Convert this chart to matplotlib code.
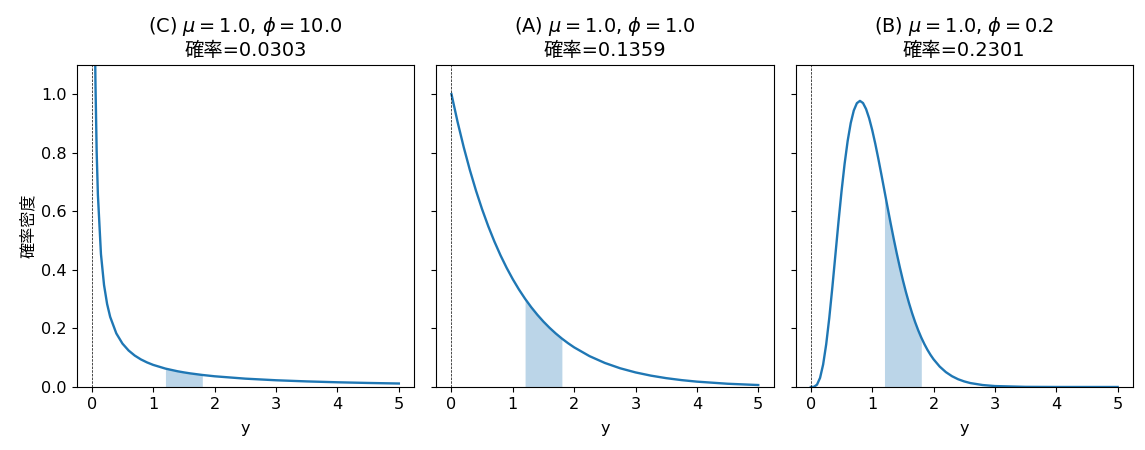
import numpy as np
import matplotlib
matplotlib.use("Agg")
from matplotlib import pyplot as plt

plt.rcParams['font.family'] = ['DejaVu Sans', 'Noto Sans CJK JP']
plt.rcParams['font.size'] = 11.6

# densities (gamma, mu=1.0)
# (C) phi = 10.0
y_c = [0.005, 0.01, 0.02, 0.03, 0.04, 0.05, 0.06, 0.08, 0.1, 0.15, 0.2, 0.25, 0.3,
       0.4, 0.5, 0.6, 0.7, 0.8, 0.9, 1.0, 1.2, 1.4, 1.5, 1.6, 1.8, 2.0, 2.5, 3.0,
       3.5, 4.0, 4.5, 5.0]
d_c = [9.82, 5.268, 2.823, 1.959, 1.513, 1.231, 1.044, 0.804, 0.6565, 0.4535, 0.3483,
       0.2835, 0.2394, 0.1830, 0.1482, 0.1246, 0.1073, 0.0942, 0.0839, 0.0755, 0.0628,
       0.0536, 0.0499, 0.0466, 0.0411, 0.0366, 0.0285, 0.0230, 0.0191, 0.0161, 0.0138,
       0.0119]

# (A) phi = 1.0
y_a = [0.0, 0.1, 0.2, 0.3, 0.4, 0.5, 0.6, 0.7, 0.8, 0.9, 1.0, 1.1, 1.2, 1.3, 1.4,
       1.5, 1.6, 1.7, 1.8, 1.9, 2.0, 2.25, 2.5, 2.75, 3.0, 3.25, 3.5, 3.75, 4.0,
       4.5, 5.0]
d_a = [1.0, 0.9048, 0.8187, 0.7408, 0.6703, 0.6065, 0.5488, 0.4966, 0.4493, 0.4066,
       0.3679, 0.3329, 0.3012, 0.2725, 0.2466, 0.2231, 0.2019, 0.1827, 0.1653, 0.1496,
       0.1353, 0.1054, 0.0821, 0.0639, 0.0498, 0.0388, 0.0302, 0.0235, 0.0183,
       0.0111, 0.0067]

# (B) phi = 0.2
y_b = [0.0, 0.05, 0.1, 0.15, 0.2, 0.25, 0.3, 0.35, 0.4, 0.45, 0.5, 0.55, 0.6, 0.65,
       0.7, 0.75, 0.8, 0.85, 0.9, 0.95, 1.0, 1.05, 1.1, 1.15, 1.2, 1.25, 1.3, 1.35,
       1.4, 1.45, 1.5, 1.55, 1.6, 1.65, 1.7, 1.75, 1.8, 1.85, 1.9, 1.95, 2.0, 2.1,
       2.2, 2.3, 2.4, 2.5, 2.6, 2.8, 3.0, 3.5, 4.0, 4.5, 5.0]
d_b = [0.0, 0.000634, 0.0079, 0.03114, 0.07664, 0.1457, 0.2353, 0.3395, 0.4511, 0.5628,
       0.668, 0.7617, 0.8402, 0.9012, 0.9441, 0.9689, 0.9768, 0.9695, 0.949, 0.9176,
       0.8773, 0.8305, 0.7791, 0.7248, 0.6693, 0.6137, 0.5591, 0.5064, 0.4561, 0.4088,
       0.3646, 0.3237, 0.2863, 0.2521, 0.2213, 0.1935, 0.1687, 0.1466, 0.127, 0.1098,
       0.0946, 0.0697, 0.0509, 0.0369, 0.0265, 0.019, 0.0134, 0.0067, 0.0032, 0.00049,
       0.00007, 0.00001, 0.0]

labels = ['(C)', '(A)', '(B)']
mus = [1.0, 1.0, 1.0]
phis = [10.0, 1.0, 0.2]
probs = [0.0303, 0.1359, 0.2301]
lo, hi = 1.2, 1.8

fig, axes = plt.subplots(1, 3, figsize=(11.45, 4.5), dpi=100, sharey=True)
fig.subplots_adjust(left=0.067, right=0.9895, top=0.856, bottom=0.14, wspace=0.065)

for ax, xs, ds, lab, mu, phi, p in zip(axes, [y_c, y_a, y_b], [d_c, d_a, d_b],
                                      labels, mus, phis, probs):
    xs = np.array(xs)
    ds = np.array(ds)
    ax.plot(xs, ds, color='C0', linewidth=1.7)
    m = (xs >= lo - 1e-9) & (xs <= hi + 1e-9)
    ax.fill_between(xs[m], ds[m], color='C0', alpha=0.3, linewidth=0)
    ax.axvline(0, color='k', linestyle='--', linewidth=0.5)
    ax.set_ylim(0, 1.1)
    ax.set_xlabel('y', labelpad=7)
    ax.set_title(f'{lab} $\\mu={mu}$, $\\phi={phi}$\n確率={p:.4f}')

axes[0].set_ylabel('確率密度')
fig.savefig('out.png')
